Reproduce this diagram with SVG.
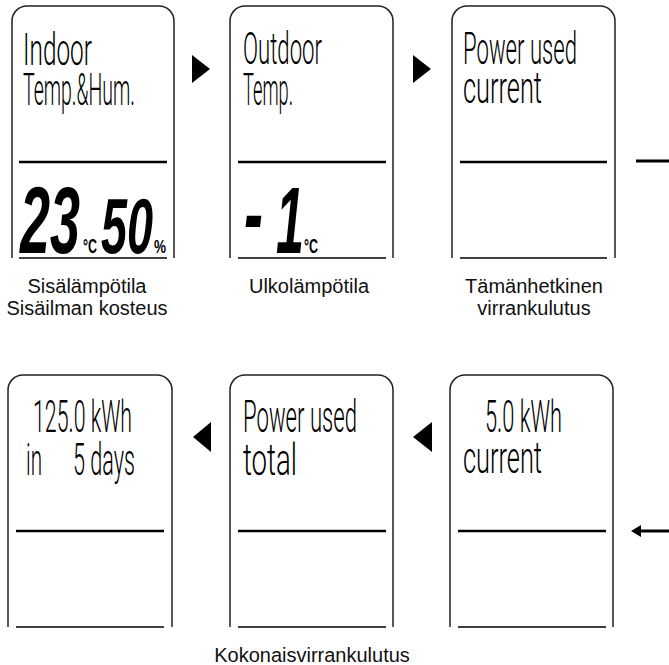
<svg xmlns="http://www.w3.org/2000/svg" width="669" height="665" viewBox="0 0 669 665">
<style>
.frame{fill:none;stroke:#222;stroke-width:1.5}
.div{stroke:#000;stroke-width:2.5}
.base{stroke:#000;stroke-width:1.5}
.lcd{font-family:"Roboto","DejaVu Sans",sans-serif;font-weight:300;font-size:44px;fill:#000}
.seg{font-family:"Liberation Sans",Arial,sans-serif;font-weight:bold;font-style:italic;fill:#000}
.unit{font-family:"Liberation Sans",Arial,sans-serif;font-weight:bold;fill:#000}
.cap{font-family:"Liberation Sans",Arial,sans-serif;font-size:20px;fill:#111;text-anchor:middle}
.tri{fill:#000}
</style>
<rect width="669" height="665" fill="#fff"/>

<g id="node-indoor">
<path class="frame" d="M12,258 V21 A15,15 0 0 1 27,6 H159 A15,15 0 0 1 174,21 V258"/>
<line class="div" x1="19" y1="162" x2="167" y2="162"/>
<line class="base" x1="19" y1="258" x2="167" y2="258"/>
<text class="lcd" x="23" y="65" textLength="69" lengthAdjust="spacingAndGlyphs">Indoor</text>
<text class="lcd" x="23" y="105" textLength="112" lengthAdjust="spacingAndGlyphs">Temp.&amp;Hum.</text>
<text class="seg" transform="translate(20,253) scale(0.568,1)" font-size="95">23</text>
<text class="unit" transform="translate(83,253) scale(0.625,1)" font-size="20">°C</text>
<text class="seg" transform="translate(101,253) scale(0.6,1)" font-size="78">50</text>
<text class="unit" transform="translate(154,253) scale(0.75,1)" font-size="18">%</text>
<text class="cap" x="87" y="293">Sisälämpötila</text>
<text class="cap" x="87" y="315">Sisäilman kosteus</text>
</g>

<g id="node-outdoor">
<path class="frame" d="M230,258 V21 A15,15 0 0 1 245,6 H378 A15,15 0 0 1 393,21 V258"/>
<line class="div" x1="238" y1="162" x2="386" y2="162"/>
<line class="base" x1="238" y1="258" x2="386" y2="258"/>
<text class="lcd" x="243" y="64" textLength="79" lengthAdjust="spacingAndGlyphs">Outdoor</text>
<text class="lcd" x="243" y="105" textLength="50" lengthAdjust="spacingAndGlyphs">Temp.</text>
<text class="seg" transform="translate(244,246) scale(0.6,1)" font-size="95">-</text>
<text class="seg" transform="translate(276,253) scale(0.53,1)" font-size="95">1</text>
<text class="unit" transform="translate(304,253) scale(0.625,1)" font-size="20">°C</text>
<text class="cap" x="309" y="293">Ulkolämpötila</text>
</g>

<g id="node-power-current">
<path class="frame" d="M452,258 V21 A15,15 0 0 1 467,6 H600 A15,15 0 0 1 615,21 V258"/>
<line class="div" x1="460" y1="162" x2="607" y2="162"/>
<line class="base" x1="460" y1="258" x2="607" y2="258"/>
<text class="lcd" x="463" y="64" textLength="114" lengthAdjust="spacingAndGlyphs">Power used</text>
<text class="lcd" x="463" y="103" textLength="79" lengthAdjust="spacingAndGlyphs">current</text>
<text class="cap" x="534" y="293">Tämänhetkinen</text>
<text class="cap" x="534" y="315">virrankulutus</text>
</g>

<g id="node-kwh-current">
<path class="frame" d="M450,627 V390 A15,15 0 0 1 465,375 H598 A15,15 0 0 1 613,390 V627"/>
<line class="div" x1="458" y1="531" x2="606" y2="531"/>
<line class="base" x1="458" y1="627" x2="606" y2="627"/>
<text class="lcd" x="485" y="432" textLength="77" lengthAdjust="spacingAndGlyphs">5.0 kWh</text>
<text class="lcd" x="463" y="473" textLength="79" lengthAdjust="spacingAndGlyphs">current</text>
</g>

<g id="node-power-total">
<path class="frame" d="M230,627 V390 A15,15 0 0 1 245,375 H378 A15,15 0 0 1 393,390 V627"/>
<line class="div" x1="238" y1="531" x2="386" y2="531"/>
<line class="base" x1="238" y1="627" x2="386" y2="627"/>
<text class="lcd" x="243" y="432" textLength="114" lengthAdjust="spacingAndGlyphs">Power used</text>
<text class="lcd" x="243" y="475" textLength="54" lengthAdjust="spacingAndGlyphs">total</text>
<text class="cap" x="312" y="662">Kokonaisvirrankulutus</text>
</g>

<g id="node-kwh-days">
<path class="frame" d="M8,627 V390 A15,15 0 0 1 23,375 H157 A15,15 0 0 1 172,390 V627"/>
<line class="div" x1="16" y1="531" x2="164" y2="531"/>
<line class="base" x1="16" y1="627" x2="164" y2="627"/>
<text class="lcd" x="33" y="432" textLength="99" lengthAdjust="spacingAndGlyphs">125.0 kWh</text>
<text class="lcd" x="26" y="475" textLength="16" lengthAdjust="spacingAndGlyphs">in</text>
<text class="lcd" x="73" y="475" textLength="62" lengthAdjust="spacingAndGlyphs">5 days</text>
</g>

<g id="connectors">
<polygon class="tri" points="192,55 210,69 192,83"/>
<polygon class="tri" points="413,55 431,69 413,83"/>
<line x1="636" y1="161" x2="669" y2="161" stroke="#000" stroke-width="3"/>
<line x1="638" y1="531" x2="669" y2="531" stroke="#000" stroke-width="3"/>
<polygon class="tri" points="631,531 641,525 641,537"/>
<polygon class="tri" points="432,422 413,437 432,452"/>
<polygon class="tri" points="211,422 193,437 211,452"/>
</g>
</svg>
